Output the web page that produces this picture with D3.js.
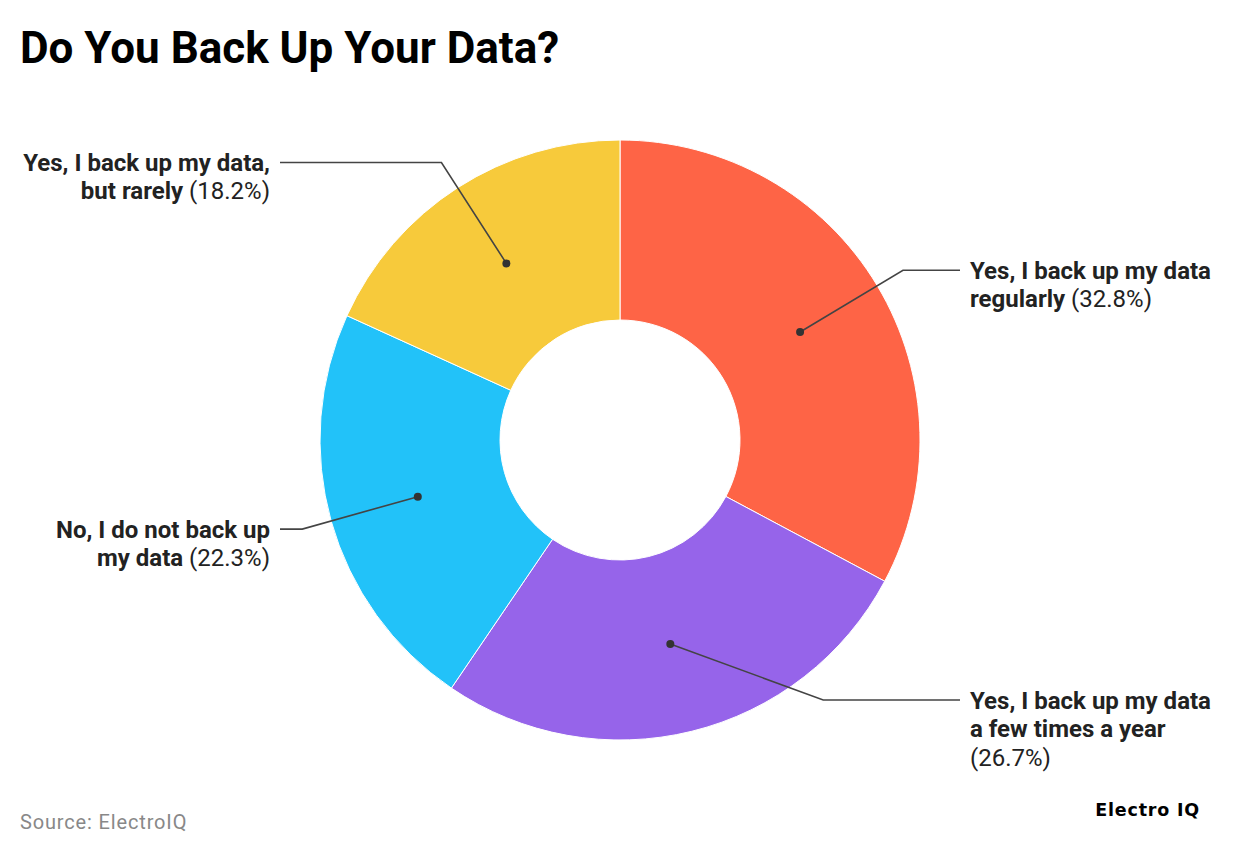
<!DOCTYPE html>
<html>
<head>
<meta charset="utf-8">
<script src="https://cdn.jsdelivr.net/npm/d3@7"></script>
<style>
  html, body { margin: 0; padding: 0; background: #fff; }
  svg { display: block; font-family: Roboto, "Noto Sans", sans-serif; }
</style>
</head>
<body>
<svg id="chart" width="1240" height="856"></svg>
<script>
// ---- data ----
const categories = [
  "Yes, I back up my data regularly",
  "Yes, I back up my data a few times a year",
  "No, I do not back up my data",
  "Yes, I back up my data, but rarely"
];
const values = [32.8, 26.7, 22.3, 18.2];
const labelLines = [
  ["Yes, I back up my data", "regularly"],
  ["Yes, I back up my data", "a few times a year"],
  ["No, I do not back up", "my data"],
  ["Yes, I back up my data,", "but rarely"]
];
const colors = ["#FE6446", "#9664EA", "#22C2F9", "#F7CA3B"];

// ---- layout ----
const W = 1240, H = 856;
const cx = 620, cy = 440;
const outerR = 300, innerR = 120;
const dotR = 210, elbowR = 330;
const maxElbowYDown = 260; // relative to center
const lineEndRight = 960, lineEndLeft = 280;
const textRight = 970, textLeft = 270;
const lineH = 28.5, maxTextW = 260, labelSize = 24;

const svg = d3.select("#chart");

svg.append("text")
  .attr("x", 20).attr("y", 63)
  .attr("font-size", 44).attr("font-weight", 700)
  .attr("fill", "#000")
  .text("Do You Back Up Your Data?");

const data = categories.map((c, i) => ({ name: c, value: values[i], lines: labelLines[i], color: colors[i] }));

const pie = d3.pie().value(d => d.value).sort(null);
const arcs = pie(data);
const arc = d3.arc().innerRadius(innerR).outerRadius(outerR);
const g = svg.append("g").attr("transform", `translate(${cx},${cy})`);

g.selectAll("path.slice").data(arcs).join("path")
  .attr("class", "slice")
  .attr("d", arc)
  .attr("fill", d => d.data.color)
  .attr("stroke", "#fff").attr("stroke-width", 1);

const fmt = d3.format(".1f");

arcs.forEach(a => {
  const mid = (a.startAngle + a.endAngle) / 2;
  const dx = Math.sin(mid), dy = -Math.cos(mid);
  const dot = [dotR * dx, dotR * dy];
  let ey = elbowR * dy;
  let ex = elbowR * dx;
  if (ey > maxElbowYDown) {
    ey = maxElbowYDown;
    ex = Math.sign(dx) * Math.sqrt(elbowR * elbowR - ey * ey);
  }
  const right = dx >= 0;
  const endX = (right ? lineEndRight : lineEndLeft) - cx;
  g.append("polyline")
    .attr("points", [dot, [ex, ey], [endX, ey]].map(p => p.join(",")).join(" "))
    .attr("fill", "none").attr("stroke", "#444").attr("stroke-width", 1.6);
  g.append("circle").attr("cx", dot[0]).attr("cy", dot[1]).attr("r", 4).attr("fill", "#333");

  const tx = (right ? textRight : textLeft);
  const t = svg.append("text")
    .attr("x", tx).attr("y", cy + ey + 8.5)
    .attr("text-anchor", right ? "start" : "end")
    .attr("font-size", labelSize).attr("fill", "#222");
  const lines = a.data.lines;
  const pct = "(" + fmt(a.data.value) + "%)";
  lines.forEach((ln, i) => {
    t.append("tspan").attr("x", tx).attr("dy", i === 0 ? 0 : lineH)
      .attr("font-weight", 700).text(ln);
  });
  const p = t.append("tspan").attr("font-weight", 400).text(" " + pct);
  const bb = t.node().getBBox();
  if (bb.width > maxTextW) {
    p.remove();
    t.append("tspan").attr("x", tx).attr("dy", lineH).attr("font-weight", 400).text(pct);
  }
});

svg.append("text")
  .attr("x", 20).attr("y", 829)
  .attr("font-size", 20).attr("letter-spacing", 0.85).attr("fill", "#888")
  .text("Source: ElectroIQ");

svg.append("text")
  .attr("x", 1200).attr("y", 816)
  .attr("text-anchor", "end")
  .attr("font-family", "'DejaVu Sans', sans-serif")
  .attr("font-size", 17.5).attr("font-weight", 700).attr("letter-spacing", 0.8).attr("fill", "#000")
  .text("Electro IQ");
</script>
</body>
</html>
